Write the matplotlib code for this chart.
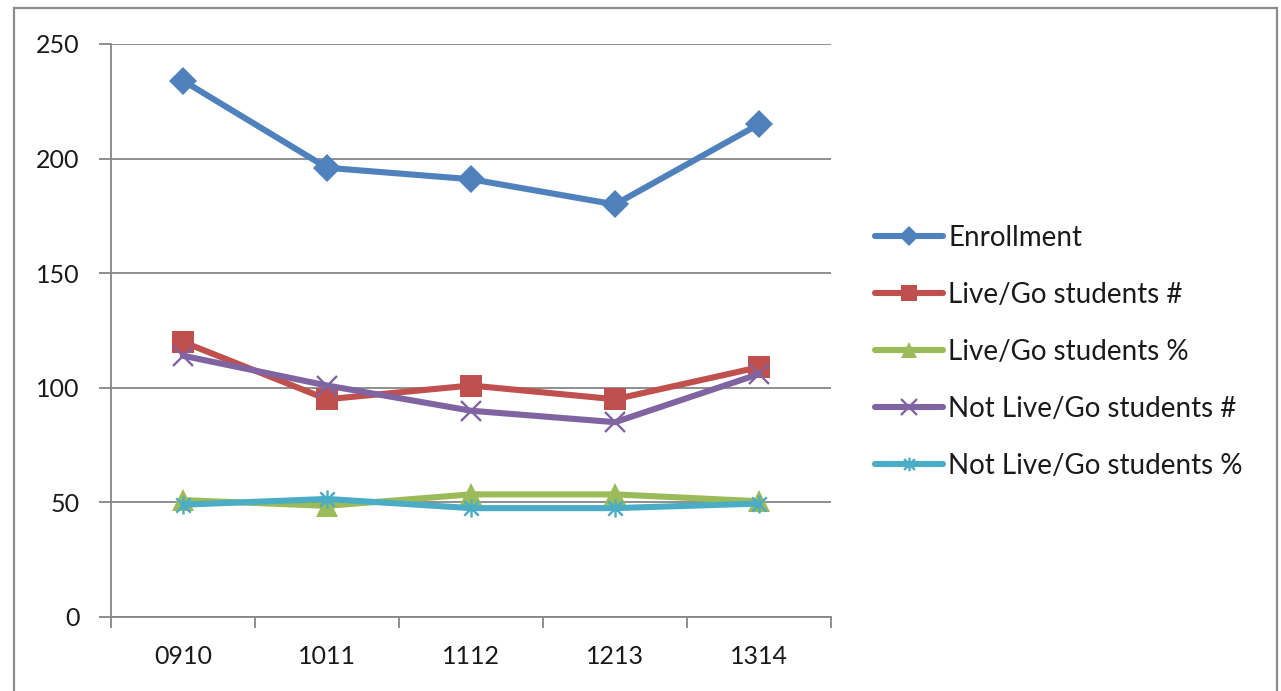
import numpy as np
import matplotlib
matplotlib.use("Agg")
import matplotlib.pyplot as plt
from matplotlib.path import Path
from matplotlib.patches import Rectangle

plt.rcParams['font.family'] = ['Lato', 'DejaVu Sans']

years = ["0910", "1011", "1112", "1213", "1314"]
enrollment = [234, 196, 191, 180, 215]
livego_num = [120, 95, 101, 95, 109]
livego_pct = [51, 48.5, 53.5, 53.5, 50.5]
not_livego_num = [114, 101, 90, 85, 106]
not_livego_pct = [49, 51.5, 47.5, 47.5, 49.5]

series_names = ["Enrollment", "Live/Go students #", "Live/Go students %",
                "Not Live/Go students #", "Not Live/Go students %"]

# excel style asterisk: x plus a vertical stroke
star = Path([(-1, -1), (1, 1), (-1, 1), (1, -1), (0, -1.25), (0, 1.25)],
            [Path.MOVETO, Path.LINETO, Path.MOVETO, Path.LINETO, Path.MOVETO, Path.LINETO])

styles = [
    dict(color="#4F81BD", marker="D", ms=14, mew=0),
    dict(color="#C0504D", marker="s", ms=15.5, mew=0),
    dict(color="#9BBB59", marker="^", ms=16, mew=0),
    dict(color="#8064A2", marker="x", ms=15, mew=1.7),
    dict(color="#4BACC6", marker=star, ms=13, mew=1.7),
]

fig = plt.figure(figsize=(12.81, 6.91), dpi=100)
ax = fig.add_axes([111 / 1281, 74 / 691, 720 / 1281, 573 / 691])

x = np.arange(len(years))
data = [enrollment, livego_num, livego_pct, not_livego_num, not_livego_pct]
for vals, name, st in zip(data, series_names, styles):
    ax.plot(x, vals, label=name, lw=4.4, solid_capstyle="round",
            solid_joinstyle="round", **st)

grey = "#868686"
ax.set_xlim(-0.5, 4.5)
ax.set_ylim(0, 250)
ax.set_yticks(range(0, 251, 50))
ax.set_xticks(x)
ax.set_xticklabels(years)
ax.set_xticks(np.arange(-0.5, 5, 1), minor=True)
ax.yaxis.grid(True, color=grey, lw=1.3)
ax.set_axisbelow(True)
for s in ["top", "right"]:
    ax.spines[s].set_visible(False)
for s in ["left", "bottom"]:
    ax.spines[s].set_color(grey)
    ax.spines[s].set_linewidth(1.3)
ax.tick_params(axis="y", length=8.6, width=1.3, color=grey, pad=14,
               labelsize=18, labelcolor="#1a1a1a")
ax.tick_params(axis="x", which="major", length=0, pad=20,
               labelsize=18, labelcolor="#1a1a1a")
ax.tick_params(axis="x", which="minor", length=8, width=1.3, color=grey)

fig.legend(loc="center left", bbox_to_anchor=(875 / 1281, 1 - 352 / 691),
           frameon=False, fontsize=20, handlelength=2.45, handletextpad=0.18,
           labelspacing=1.12, borderpad=0, borderaxespad=0, markerscale=0.75,
           labelcolor="#1a1a1a")

# outer chart frame
fig.patches.append(Rectangle((14 / 1281, -0.05), 1263 / 1281, 1.05 - 8 / 691,
                             transform=fig.transFigure, fill=False,
                             edgecolor="#8c8c8c", lw=1.6))

fig.savefig("out.png", dpi=100)
